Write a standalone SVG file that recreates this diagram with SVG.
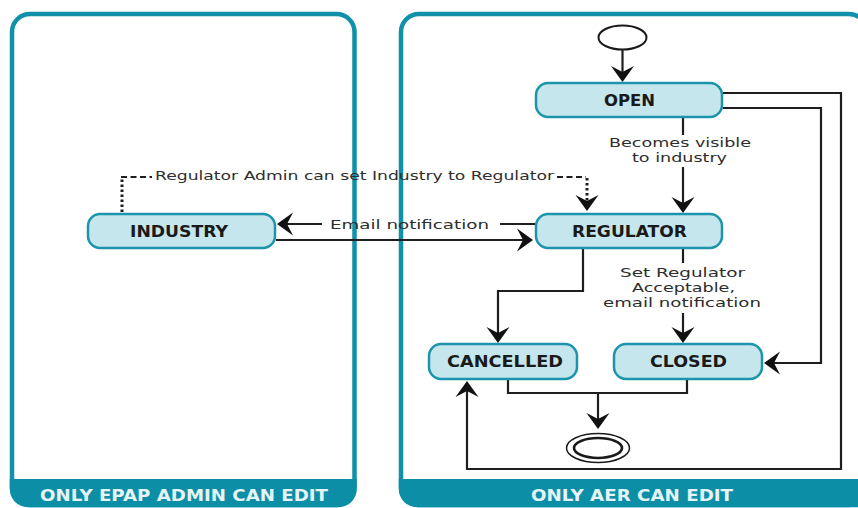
<svg xmlns="http://www.w3.org/2000/svg" width="858" height="508" viewBox="0 0 858 508">
<style>
.panel{fill:#ffffff;stroke:#1190a9;stroke-width:4.5}
.band{fill:#0d8ea7}
.bandtxt{font-family:"DejaVu Sans",sans-serif;font-weight:bold;font-size:15.5px;fill:#e4f4f7}
.node{fill:#c4e6ec;stroke:#1c95ac;stroke-width:2.5}
.ntxt{font-family:"DejaVu Sans",sans-serif;font-weight:bold;font-size:16.5px;fill:#1a1a1a}
.lbl{font-family:"DejaVu Sans",sans-serif;font-size:12.5px;fill:#2e2e2e}
.ln{fill:none;stroke:#1e1e1e;stroke-width:2.2}
.dot{fill:none;stroke:#1e1e1e;stroke-width:3;stroke-dasharray:2.5 2.5}
.dash{fill:none;stroke:#1e1e1e;stroke-width:2.2;stroke-dasharray:6 3.5}
.st{fill:#ffffff;stroke:#1a1a1a}
</style>
<defs>
<marker id="arr" markerUnits="userSpaceOnUse" markerWidth="24" markerHeight="26" viewBox="-16 -13 22 26" refX="0" refY="0" orient="auto" overflow="visible">
<path d="M3,0 L-13,-11.5 L-7,0 L-13,11.5 Z" fill="#111111"/>
</marker>
</defs>

<g id="panel-epap">
<rect class="panel" x="12" y="14" width="342.5" height="491" rx="18"/>
<path class="band" d="M9.75,479 H356.75 V489 A18.25,18.25 0 0 1 338.5,507.25 H28 A18.25,18.25 0 0 1 9.75,489 Z"/>
<text class="bandtxt" x="40" y="501" textLength="288" lengthAdjust="spacingAndGlyphs">ONLY EPAP ADMIN CAN EDIT</text>
</g>

<g id="panel-aer">
<rect class="panel" x="401" y="14" width="466" height="491" rx="18"/>
<path class="band" d="M398.75,479 H870 V507.25 H417 A18.25,18.25 0 0 1 398.75,489 Z"/>
<text class="bandtxt" x="531" y="501" textLength="202" lengthAdjust="spacingAndGlyphs">ONLY AER CAN EDIT</text>
</g>

<g id="connectors">
<path class="ln" d="M622.5,50 V79" marker-end="url(#arr)"/>
<path class="ln" d="M683,118 V135"/>
<path class="ln" d="M683,167 V210" marker-end="url(#arr)"/>
<path class="ln" d="M683,249 V263"/>
<path class="ln" d="M683,313 V340" marker-end="url(#arr)"/>
<path class="ln" d="M583,249 V291 H498 V340" marker-end="url(#arr)"/>
<path class="ln" d="M508,380 V393 H687 V380"/>
<path class="ln" d="M598,393 V426" marker-end="url(#arr)"/>
<path class="ln" d="M723,108 H821 V363 H767" marker-end="url(#arr)"/>
<path class="ln" d="M723,93 H841 V469 H467 V384" marker-end="url(#arr)"/>
<path class="ln" d="M535,224 H500"/>
<path class="ln" d="M322,224 H280" marker-end="url(#arr)"/>
<path class="ln" d="M276,240 H530" marker-end="url(#arr)"/>
<path class="dot" d="M122,212 V178"/>
<path class="dash" d="M121,177 H152"/>
<path class="dash" d="M557,177 H586"/>
<path class="dot" d="M587,178 V208" marker-end="url(#arr)"/>
<text class="lbl" x="155" y="180" textLength="399" lengthAdjust="spacingAndGlyphs">Regulator Admin can set Industry to Regulator</text>
<text class="lbl" x="330" y="228.5" textLength="159" lengthAdjust="spacingAndGlyphs">Email notification</text>
<text class="lbl"><tspan x="609" y="147" textLength="142" lengthAdjust="spacingAndGlyphs">Becomes visible</tspan><tspan x="632" y="162" textLength="95" lengthAdjust="spacingAndGlyphs">to industry</tspan></text>
<text class="lbl"><tspan x="620" y="277" textLength="125" lengthAdjust="spacingAndGlyphs">Set Regulator</tspan><tspan x="632" y="292" textLength="103" lengthAdjust="spacingAndGlyphs">Acceptable,</tspan><tspan x="603" y="307" textLength="158" lengthAdjust="spacingAndGlyphs">email notification</tspan></text>
</g>

<g id="initial">
<ellipse class="st" cx="622.5" cy="37.5" rx="24" ry="12" stroke-width="2"/>
</g>

<g id="final">
<ellipse class="st" cx="598" cy="448" rx="31.5" ry="14.5" stroke-width="1.5"/>
<ellipse class="st" cx="598" cy="448" rx="24" ry="10" stroke-width="2.6"/>
</g>

<g id="node-open">
<rect class="node" x="536" y="83" width="186" height="34" rx="12"/>
<text class="ntxt" x="604" y="106" textLength="51" lengthAdjust="spacingAndGlyphs">OPEN</text>
</g>

<g id="node-regulator">
<rect class="node" x="536" y="214" width="186" height="34" rx="12"/>
<text class="ntxt" x="572" y="237" textLength="115" lengthAdjust="spacingAndGlyphs">REGULATOR</text>
</g>

<g id="node-industry">
<rect class="node" x="88" y="214" width="187" height="34" rx="12"/>
<text class="ntxt" x="130" y="237" textLength="98" lengthAdjust="spacingAndGlyphs">INDUSTRY</text>
</g>

<g id="node-cancelled">
<rect class="node" x="429" y="344" width="148" height="35" rx="12"/>
<text class="ntxt" x="447" y="367" textLength="116" lengthAdjust="spacingAndGlyphs">CANCELLED</text>
</g>

<g id="node-closed">
<rect class="node" x="614" y="344" width="148" height="35" rx="12"/>
<text class="ntxt" x="650" y="367" textLength="77" lengthAdjust="spacingAndGlyphs">CLOSED</text>
</g>
</svg>
